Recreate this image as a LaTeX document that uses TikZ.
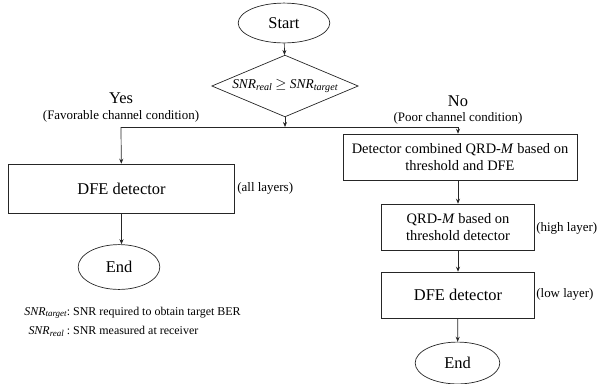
\documentclass[tikz,border=0pt]{standalone}
\usepackage{fontspec}
\usepackage{graphicx}
\setmainfont{Liberation Serif}
\usetikzlibrary{shapes.geometric,arrows.meta}

\newcommand{\snr}[1]{\textit{SNR}\raisebox{-0.35ex}{\scalebox{0.75}{\textit{#1}}}}

\begin{document}
\begin{tikzpicture}[x=1bp, y=-1bp, line width=0.7bp, draw=black!85,
  >={Stealth[length=5bp,width=4bp]},
  terminal/.style={ellipse, draw, inner sep=0pt, font=\fontsize{16.5}{18}\selectfont},
  decision/.style={diamond, draw, inner sep=0pt, aspect=2.4, font=\fontsize{13.5}{15}\selectfont},
  process/.style={rectangle, draw, inner sep=0pt, align=center},
  big/.style={font=\fontsize{16.5}{18}\selectfont},
  small/.style={font=\fontsize{14.5}{17}\selectfont},
  note/.style={inner sep=0pt, font=\fontsize{13}{15}\selectfont}]
\useasboundingbox (0,0) rectangle (597,383);
% Start and the SNR test
\node[terminal, minimum width=92, minimum height=40] (start) at (284,23) {Start};
\node[decision, minimum width=147, minimum height=62] (cond) at (285,86)
  {\snr{real} $\geq$ \snr{target}};
\coordinate (split) at (285,127);
\coordinate (yesturn) at (121,127);
\coordinate (noturn) at (458,127);
% Branch labels
\node[note, big] (yes) at (121,98) {Yes};
\node[note] (yescond) at (121,116) {(Favorable channel condition)};
\node[note, big] (no) at (458,101) {No};
\node[note] (nocond) at (458,118) {(Poor channel condition)};
% Left branch
\node[process, big, minimum width=227, minimum height=49] (dfeall) at (121.5,188.5) {DFE detector};
\node[note, anchor=west] (alllay) at (237,188) {(all layers)};
\node[terminal, minimum width=82, minimum height=45] (endleft) at (119,267) {End};
% Right branch
\node[process, small, minimum width=235, minimum height=46] (combo) at (460,157)
  {Detector combined QRD-\textit{M} based on\\threshold and DFE};
\node[process, small, minimum width=154, minimum height=46] (qrd) at (458,227)
  {QRD-\textit{M} based on\\threshold detector};
\node[note, anchor=west] (highlay) at (536,228) {(high layer)};
\node[process, big, minimum width=154, minimum height=46] (dfelow) at (458,295) {DFE detector};
\node[note, anchor=west] (lowlay) at (536,294) {(low layer)};
\node[terminal, minimum width=85, minimum height=42] (endright) at (457.5,363) {End};
% Legend
\node[inner sep=0pt, anchor=west, font=\fontsize{12}{20}\selectfont] (legend) at (24,321)
  {\begin{tabular}{@{}r@{}l@{}}
   \snr{target}: & \ SNR required to obtain target BER\\
   \snr{real} : & \ SNR measured at receiver
   \end{tabular}};
% Connectors
\draw[->] (start) -- (cond);
\draw[->] (cond) -- (split);
\draw (yesturn) -- (noturn);
\draw[->] (yesturn) -- (dfeall);
\draw[->] (noturn) -- (noturn |- combo.north);
\draw[->] (dfeall) -- (endleft.north -| dfeall.south);
\draw[->] (combo.south -| qrd.north) -- (qrd);
\foreach \u/\v in {qrd/dfelow, dfelow/endright}
  \draw[->] (\u) -- (\v);
\end{tikzpicture}
\end{document}
